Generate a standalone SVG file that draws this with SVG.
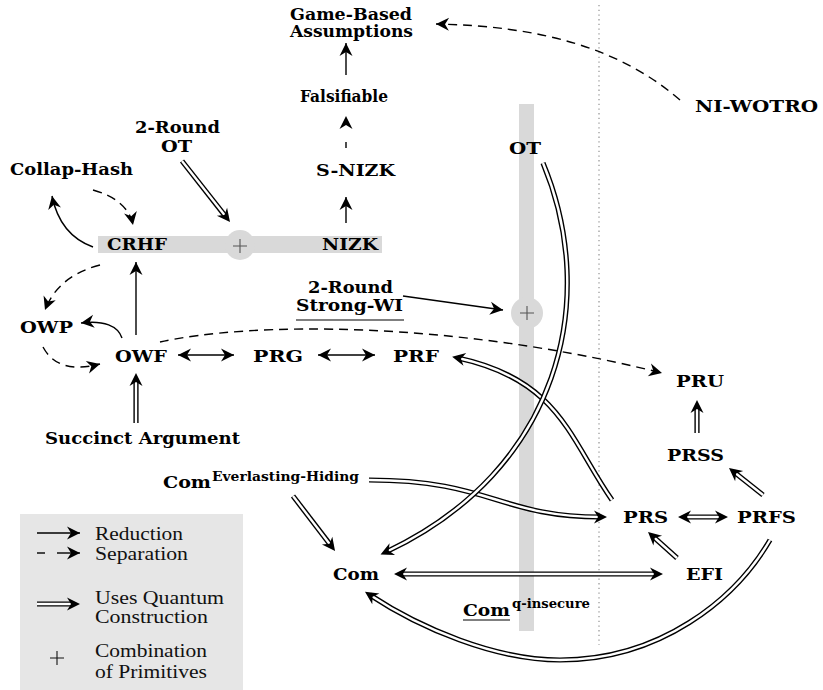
<svg xmlns="http://www.w3.org/2000/svg" width="823" height="690" viewBox="0 0 823 690">
<style>
.n{font-family:"DejaVu Serif",serif;font-weight:bold;font-size:17.5px;fill:#000}
.sup{font-size:12.5px}
.lg{font-family:"Liberation Serif","Times New Roman",serif;font-size:19px;fill:#111}
.s{fill:none;stroke:#000;stroke-width:1.4}
.d{fill:none;stroke:#000;stroke-width:1.4;stroke-dasharray:9 6}
.qo{fill:none;stroke:#000;stroke-width:5.2}
.qi{fill:none;stroke:#fff;stroke-width:2.4}
.qm{fill:none;stroke:none}
.bar{fill:#d9d9d9}
.plus{stroke:#555;stroke-width:1.1;fill:none}
.ul{stroke:#000;stroke-width:1.2}
</style>
<defs>
<marker id="ah" markerUnits="userSpaceOnUse" markerWidth="18" markerHeight="18" viewBox="-15 -9 18 18" refX="0" refY="0" orient="auto-start-reverse">
<path d="M0,0 L-13,-6.5 L-9,0 L-13,6.5 Z" fill="#000"/>
</marker>
<marker id="ahd" markerUnits="userSpaceOnUse" markerWidth="18" markerHeight="18" viewBox="-15 -9 18 18" refX="-6" refY="0" orient="auto-start-reverse">
<path d="M0,0 L-13,-6.5 L-9,0 L-13,6.5 Z" fill="#000"/>
</marker>
<path id="q1" d="M182,161 L226.3,217.3"/>
<path id="q2" d="M136,423 L136,379"/>
<path id="q3" d="M543,163 C600,300 560,470 386,552"/>
<path id="q4" d="M612,500 C570,440 560,380 458,358"/>
<path id="q5" d="M369,480 C490,480 500,517 601,517"/>
<path id="q6" d="M293,496 L331.4,546.2"/>
<path id="q7" d="M400,574 L657,574"/>
<path id="q8" d="M677,558 L652.5,536"/>
<path id="q9" d="M684,517 L722,517"/>
<path id="q10" d="M763,495 L733.7,471.7"/>
<path id="q11" d="M697,433 L697,406"/>
<path id="q12" d="M770,540 C735,600 660,660 560,660 C495,660 420,628 370,595"/>
<path id="q13" d="M37,604 L74,604"/>
</defs>

<line x1="599" y1="5" x2="599" y2="645" stroke="#9a9a9a" stroke-width="1.3" stroke-dasharray="1.3 3.4"/>
<g id="legend">
<rect x="20" y="514" width="223" height="176" fill="#e6e6e6"/>
<path class="s" d="M37,533 L80,533" marker-end="url(#ah)"/>
<path class="s" d="M37,553 L45,553"/>
<path class="s" d="M57,553 L80,553" marker-end="url(#ah)"/>
<use href="#q13" class="qo"/><use href="#q13" class="qi"/><use href="#q13" class="qm" marker-end="url(#ahd)"/>
<path d="M50,658 L64,658 M57,651 L57,665" stroke="#111" stroke-width="1.1"/>
<text class="lg" x="95" y="540" textLength="88" lengthAdjust="spacingAndGlyphs">Reduction</text>
<text class="lg" x="95" y="560" textLength="93" lengthAdjust="spacingAndGlyphs">Separation</text>
<text class="lg" x="95" y="604" textLength="129" lengthAdjust="spacingAndGlyphs">Uses Quantum</text>
<text class="lg" x="95" y="623" textLength="113" lengthAdjust="spacingAndGlyphs">Construction</text>
<text class="lg" x="95" y="657" textLength="112" lengthAdjust="spacingAndGlyphs">Combination</text>
<text class="lg" x="95" y="678" textLength="112" lengthAdjust="spacingAndGlyphs">of Primitives</text>
</g>

<g id="combo-top">
<rect class="bar" x="98" y="236" width="284" height="17"/>
<circle class="bar" cx="240" cy="245" r="15"/>
<path class="plus" d="M233,246 L247,246 M240,239 L240,253"/>
</g>
<g id="combo-right">
<rect class="bar" x="519" y="104" width="15" height="527"/>
<circle class="bar" cx="527" cy="313" r="16"/>
<path class="plus" d="M520,313 L534,313 M527,306 L527,320"/>
</g>

<g id="connectors">
<use href="#q1" class="qo"/><use href="#q1" class="qi"/><use href="#q1" class="qm" marker-end="url(#ahd)"/>
<use href="#q2" class="qo"/><use href="#q2" class="qi"/><use href="#q2" class="qm" marker-end="url(#ahd)"/>
<use href="#q12" class="qo"/><use href="#q12" class="qi"/><use href="#q12" class="qm" marker-end="url(#ahd)"/>
<use href="#q5" class="qo"/><use href="#q5" class="qi"/><use href="#q5" class="qm" marker-end="url(#ahd)"/>
<use href="#q4" class="qo"/><use href="#q4" class="qi"/><use href="#q4" class="qm" marker-end="url(#ahd)"/>
<use href="#q3" class="qo"/><use href="#q3" class="qi"/><use href="#q3" class="qm" marker-end="url(#ahd)"/>
<use href="#q6" class="qo"/><use href="#q6" class="qi"/><use href="#q6" class="qm" marker-end="url(#ahd)"/>
<use href="#q7" class="qo"/><use href="#q7" class="qi"/><use href="#q7" class="qm" marker-start="url(#ahd)" marker-end="url(#ahd)"/>
<use href="#q8" class="qo"/><use href="#q8" class="qi"/><use href="#q8" class="qm" marker-end="url(#ahd)"/>
<use href="#q9" class="qo"/><use href="#q9" class="qi"/><use href="#q9" class="qm" marker-start="url(#ahd)" marker-end="url(#ahd)"/>
<use href="#q10" class="qo"/><use href="#q10" class="qi"/><use href="#q10" class="qm" marker-end="url(#ahd)"/>
<use href="#q11" class="qo"/><use href="#q11" class="qi"/><use href="#q11" class="qm" marker-end="url(#ahd)"/>

<path class="s" d="M346,75 L346,43" marker-end="url(#ah)"/>
<path class="s" d="M346,223 L346,197" marker-end="url(#ah)"/>
<path class="s" d="M93,247 Q60,235 52,196" marker-end="url(#ah)"/>
<path class="s" d="M136,335 L136,262" marker-end="url(#ah)"/>
<path class="s" d="M122,338 C118,326 104,320 81,323" marker-end="url(#ah)"/>
<path class="s" d="M178,355 L234,355" marker-start="url(#ah)" marker-end="url(#ah)"/>
<path class="s" d="M318,355 L375,355" marker-start="url(#ah)" marker-end="url(#ah)"/>
<path class="s" d="M403,296 L503,310" marker-end="url(#ah)"/>

<path class="d" d="M346,148 L346,116" style="stroke-dasharray:6 40" marker-end="url(#ah)"/>
<path class="d" d="M93,190 Q128,200 133,225" marker-end="url(#ah)"/>
<path class="d" d="M100,265 Q58,276 45,310" marker-end="url(#ah)"/>
<path class="d" d="M43,347 Q58,375 100,364" marker-end="url(#ah)"/>
<path class="d" d="M160,342 C250,322 450,320 662,373" marker-end="url(#ah)"/>
<path class="d" d="M680,100 C620,48 540,26 436,24" marker-end="url(#ah)"/>
</g>

<g id="game-based"><text class="n" x="290" y="20" textLength="122" lengthAdjust="spacingAndGlyphs">Game-Based</text><text class="n" x="290" y="37" textLength="123" lengthAdjust="spacingAndGlyphs">Assumptions</text></g>
<g id="falsifiable"><text class="n" x="300" y="102" textLength="88" lengthAdjust="spacingAndGlyphs">Falsifiable</text></g>
<g id="s-nizk"><text class="n" x="316" y="176" textLength="79" lengthAdjust="spacingAndGlyphs">S-NIZK</text></g>
<g id="nizk"><text class="n" x="322" y="250" textLength="56" lengthAdjust="spacingAndGlyphs">NIZK</text></g>
<g id="crhf"><text class="n" x="107" y="250" textLength="60" lengthAdjust="spacingAndGlyphs">CRHF</text></g>
<g id="two-round-ot"><text class="n" x="135" y="133" textLength="85" lengthAdjust="spacingAndGlyphs">2-Round</text><text class="n" x="161" y="152" textLength="31" lengthAdjust="spacingAndGlyphs">OT</text></g>
<g id="collap-hash"><text class="n" x="10" y="175" textLength="123" lengthAdjust="spacingAndGlyphs">Collap-Hash</text></g>
<g id="owp"><text class="n" x="20" y="333" textLength="53" lengthAdjust="spacingAndGlyphs">OWP</text></g>
<g id="owf"><text class="n" x="115" y="362" textLength="52" lengthAdjust="spacingAndGlyphs">OWF</text></g>
<g id="prg"><text class="n" x="253" y="362" textLength="50" lengthAdjust="spacingAndGlyphs">PRG</text></g>
<g id="prf"><text class="n" x="393" y="362" textLength="46" lengthAdjust="spacingAndGlyphs">PRF</text></g>
<g id="succinct"><text class="n" x="45" y="444" textLength="195" lengthAdjust="spacingAndGlyphs">Succinct Argument</text></g>
<g id="two-round-wi"><text class="n" x="308" y="293" textLength="85" lengthAdjust="spacingAndGlyphs">2-Round</text><text class="n" x="296" y="311" textLength="107" lengthAdjust="spacingAndGlyphs">Strong-WI</text><line class="ul" x1="296" y1="320" x2="404" y2="320"/></g>
<g id="ot"><text class="n" x="509" y="154" textLength="32" lengthAdjust="spacingAndGlyphs">OT</text></g>
<g id="ni-wotro"><text class="n" x="695" y="112" textLength="123" lengthAdjust="spacingAndGlyphs">NI-WOTRO</text></g>
<g id="pru"><text class="n" x="676" y="387" textLength="48" lengthAdjust="spacingAndGlyphs">PRU</text></g>
<g id="prss"><text class="n" x="667" y="461" textLength="57" lengthAdjust="spacingAndGlyphs">PRSS</text></g>
<g id="prs"><text class="n" x="623" y="523" textLength="45" lengthAdjust="spacingAndGlyphs">PRS</text></g>
<g id="prfs"><text class="n" x="737" y="523" textLength="59" lengthAdjust="spacingAndGlyphs">PRFS</text></g>
<g id="efi"><text class="n" x="686" y="580" textLength="37" lengthAdjust="spacingAndGlyphs">EFI</text></g>
<g id="com"><text class="n" x="333" y="580" textLength="46" lengthAdjust="spacingAndGlyphs">Com</text></g>
<g id="com-eh"><text class="n" x="163" y="488" textLength="48" lengthAdjust="spacingAndGlyphs">Com</text><text class="n sup" x="212" y="481" textLength="147" lengthAdjust="spacingAndGlyphs">Everlasting-Hiding</text></g>
<g id="com-qi"><text class="n" x="463" y="616" textLength="47" lengthAdjust="spacingAndGlyphs">Com</text><line class="ul" x1="463" y1="620" x2="510" y2="620"/><text class="n sup" x="512" y="608" textLength="78" lengthAdjust="spacingAndGlyphs">q-insecure</text></g>
</svg>
